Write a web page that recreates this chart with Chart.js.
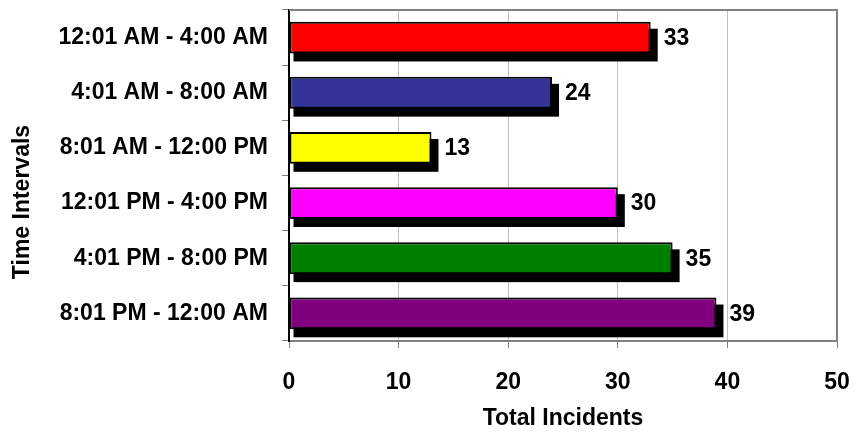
<!DOCTYPE html>
<html>
<head>
<meta charset="utf-8">
<script src="https://cdn.jsdelivr.net/npm/chart.js@4/dist/chart.umd.min.js"></script>
<style>
  html, body { margin: 0; padding: 0; background: #fff; }
  #c { display: block; }
</style>
</head>
<body>
<canvas id="c" width="856" height="433"></canvas>
<script>
const categories = [
  '12:01 AM - 4:00 AM',
  '4:01 AM - 8:00 AM',
  '8:01 AM - 12:00 PM',
  '12:01 PM - 4:00 PM',
  '4:01 PM - 8:00 PM',
  '8:01 PM - 12:00 AM'
];
const incidents = [33, 24, 13, 30, 35, 39];
const barColors = ['#FF0000', '#333399', '#FFFF00', '#FF00FF', '#008000', '#800080'];
const xTicks = [0, 10, 20, 30, 40, 50];
const yTitle = 'Time Intervals';
const xTitle = 'Total Incidents';

const FONT = 'Liberation Sans, Arial, sans-serif';
const FONT_SIZE = 23;

// Keep the plot area exactly where the layout padding puts it
function noLabelOverflow(scale) {
  scale.paddingTop = 0;
  scale.paddingBottom = 0;
  scale.paddingLeft = 0;
  scale.paddingRight = 0;
}

// Drop shadow behind each bar, value labels after the bars, grey frame,
// and the vertical axis title (sits a little below the plot's middle)
const barExtras = {
  id: 'barExtras',
  beforeDatasetsDraw(chart) {
    const ctx = chart.ctx;
    const meta = chart.getDatasetMeta(0);
    ctx.save();
    ctx.fillStyle = '#000';
    meta.data.forEach(bar => {
      const h = bar.height;
      const left = Math.min(bar.base, bar.x);
      const w = Math.abs(bar.x - bar.base);
      ctx.fillRect(left + 4, bar.y - h / 2 + 7, w + 3, h + 1);
    });
    ctx.restore();
  },
  afterDatasetsDraw(chart) {
    const ctx = chart.ctx;
    const meta = chart.getDatasetMeta(0);
    ctx.save();
    ctx.fillStyle = '#000';
    ctx.font = 'bold ' + FONT_SIZE + 'px ' + FONT;
    ctx.textAlign = 'left';
    ctx.textBaseline = 'middle';
    meta.data.forEach((bar, i) => {
      ctx.fillText(String(incidents[i]), bar.x + 13, bar.y + 1);
    });
    ctx.restore();
  },
  afterDraw(chart) {
    const a = chart.chartArea;
    const ctx = chart.ctx;
    ctx.save();
    ctx.strokeStyle = '#808080';
    ctx.lineWidth = 2;
    ctx.beginPath();
    ctx.moveTo(a.left, a.top);
    ctx.lineTo(a.right, a.top);
    ctx.lineTo(a.right, a.bottom);
    ctx.stroke();

    ctx.translate(23, 202);
    ctx.rotate(-Math.PI / 2);
    ctx.fillStyle = '#000';
    ctx.font = 'bold ' + FONT_SIZE + 'px ' + FONT;
    ctx.textAlign = 'center';
    ctx.textBaseline = 'middle';
    ctx.fillText(yTitle, 0, 0);
    ctx.restore();
  }
};

new Chart(document.getElementById('c'), {
  type: 'bar',
  data: {
    labels: categories,
    datasets: [{
      data: incidents,
      backgroundColor: barColors,
      borderColor: '#000',
      borderWidth: 2,
      borderSkipped: false,
      barPercentage: 0.72,
      categoryPercentage: 0.8
    }]
  },
  options: {
    indexAxis: 'y',
    responsive: false,
    animation: false,
    devicePixelRatio: 1,
    layout: { padding: { top: 10, right: 19, left: 0, bottom: 0 } },
    plugins: { legend: { display: false }, tooltip: { enabled: false } },
    scales: {
      x: {
        type: 'linear',
        min: 0,
        max: 50,
        afterBuildTicks(scale) { scale.ticks = xTicks.map(v => ({ value: v })); },
        afterFit(scale) { scale.height = 92; noLabelOverflow(scale); },
        ticks: {
          color: '#000',
          font: { family: FONT, size: FONT_SIZE, weight: 'bold' },
          padding: 21
        },
        grid: { color: '#c0c0c0', lineWidth: 1, tickLength: 7, tickColor: '#808080' },
        border: { color: '#808080', width: 2 },
        title: {
          display: true,
          text: xTitle,
          color: '#000',
          font: { family: FONT, size: FONT_SIZE, weight: 'bold' },
          padding: { top: 10, bottom: 1 }
        }
      },
      y: {
        type: 'category',
        afterFit(scale) { scale.width = 289; noLabelOverflow(scale); },
        ticks: {
          color: '#000',
          font: { family: FONT, size: FONT_SIZE, weight: 'bold' },
          padding: 14
        },
        grid: { offset: true, drawOnChartArea: false, tickLength: 7, color: '#808080' },
        border: { color: '#000', width: 2 }
      }
    }
  },
  plugins: [barExtras]
});
</script>
</body>
</html>
